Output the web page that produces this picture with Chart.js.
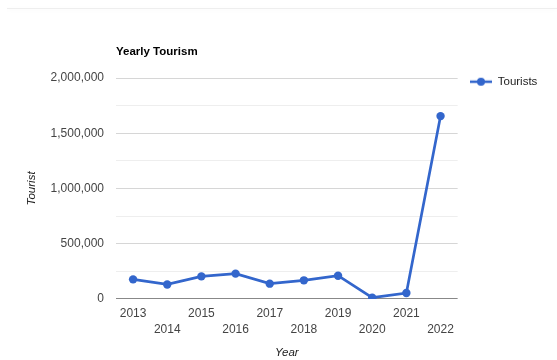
<!DOCTYPE html>
<html><head><meta charset="utf-8">
<script src="https://cdn.jsdelivr.net/npm/chart.js@4/dist/chart.umd.min.js"></script>
<style>
html,body{margin:0;padding:0;background:#fff;}
#wrap{position:relative;width:557px;height:360px;overflow:hidden;}
#topline{position:absolute;left:7px;right:0;top:8px;height:1px;background:#eeeeee;box-shadow:0 1px 4px rgba(0,0,0,0.05);}
canvas{position:absolute;left:0;top:0;}
</style></head><body>
<div id="wrap"><div id="topline"></div><canvas id="c" width="557" height="360"></canvas></div>
<script>
const years = ['2013','2014','2015','2016','2017','2018','2019','2020','2021','2022'];
const tourists = [177000, 131000, 204000, 229000, 138000, 168000, 210000, 11000, 53000, 1655000];
const yLabelValues = [0, 500000, 1000000, 1500000, 2000000];
const seriesName = 'Tourists';
const chartTitle = 'Yearly Tourism';
const xTitle = 'Year';
const yTitle = 'Tourist';

const BLUE = '#3366cc';
const FONT = 'Liberation Sans, Arial, sans-serif';

// legend symbol: line with a dot
const sym = document.createElement('canvas');
sym.width = 22; sym.height = 10;
(function(){
  const g = sym.getContext('2d');
  g.strokeStyle = BLUE; g.lineWidth = 2.5;
  g.beginPath(); g.moveTo(0,5); g.lineTo(22,5); g.stroke();
  g.fillStyle = BLUE; g.beginPath(); g.arc(11,5,4,0,Math.PI*2); g.fill();
})();

const nudge = {
  id: 'nudge',
  afterLayout(chart) {
    const a = chart.chartArea;
    if (chart.titleBlock) { const w = chart.titleBlock.right - chart.titleBlock.left; chart.titleBlock.left = a.left; chart.titleBlock.right = a.left + w; }
    if (chart.legend) {
      const L = chart.legend, h = L.bottom - L.top, w = L.right - L.left;
      L.left = 460; L.right = L.left + w;
      L.top = 66; L.bottom = L.top + h;
    }
  }
};

new Chart(document.getElementById('c'), {
  type: 'line',
  data: {
    labels: years,
    datasets: [{
      label: seriesName,
      data: tourists,
      borderColor: BLUE,
      backgroundColor: BLUE,
      borderWidth: 2.7,
      pointRadius: 4.2,
      pointHoverRadius: 4.2,
      pointBackgroundColor: BLUE,
      pointBorderWidth: 0,
      tension: 0
    }]
  },
  options: {
    responsive: false,
    devicePixelRatio: 1,
    animation: false,
    layout: { padding: { left: 21, right: 12, top: 40, bottom: 0 } },
    plugins: {
      title: {
        display: true, text: chartTitle, align: 'start', color: '#000',
        font: { family: FONT, size: 11.5, weight: 'bold', lineHeight: 1.2 },
        padding: { top: 5, bottom: 19.2 }
      },
      legend: {
        display: true, position: 'right', align: 'start',
        labels: {
          usePointStyle: true, pointStyle: sym, pointStyleWidth: 22,
          color: '#222', padding: 10,
          font: { family: FONT, size: 11.5 }
        }
      },
      tooltip: { enabled: false }
    },
    scales: {
      x: {
        type: 'category',
        offset: true,
        grid: { display: false, drawTicks: false },
        border: { display: false },
        ticks: {
          autoSkip: false, maxRotation: 0, minRotation: 0, padding: 7,
          color: '#444',
          font: { family: FONT, size: 12, lineHeight: '16px' },
          callback: function(v, i) { const s = this.getLabelForValue(v); return i % 2 === 0 ? [s] : ['', s]; }
        },
        title: {
          display: true, text: xTitle, color: '#222',
          font: { family: FONT, size: 11.5, style: 'italic', lineHeight: 1.2 },
          padding: { top: 1.3, bottom: 0 }
        }
      },
      y: {
        min: 0, max: 2000000,
        afterFit(s) { s.width = 95; },
        grid: {
          drawTicks: false,
          color: c => c.tick && c.tick.value === 0 ? '#888' : (yLabelValues.includes(c.tick && c.tick.value) ? '#d6d6d6' : '#eeeeee'),
          lineWidth: 1
        },
        border: { display: false },
        ticks: {
          stepSize: 250000, padding: 12, color: '#444',
          font: { family: FONT, size: 12 },
          callback: v => yLabelValues.includes(v) ? v.toLocaleString('en-US') : ''
        },
        title: {
          display: true, text: yTitle, color: '#222',
          font: { family: FONT, size: 11.5, style: 'italic', lineHeight: 1.2 },
          padding: { top: 4, bottom: 4 }
        }
      }
    }
  },
  plugins: [nudge]
});
</script>
</body></html>
